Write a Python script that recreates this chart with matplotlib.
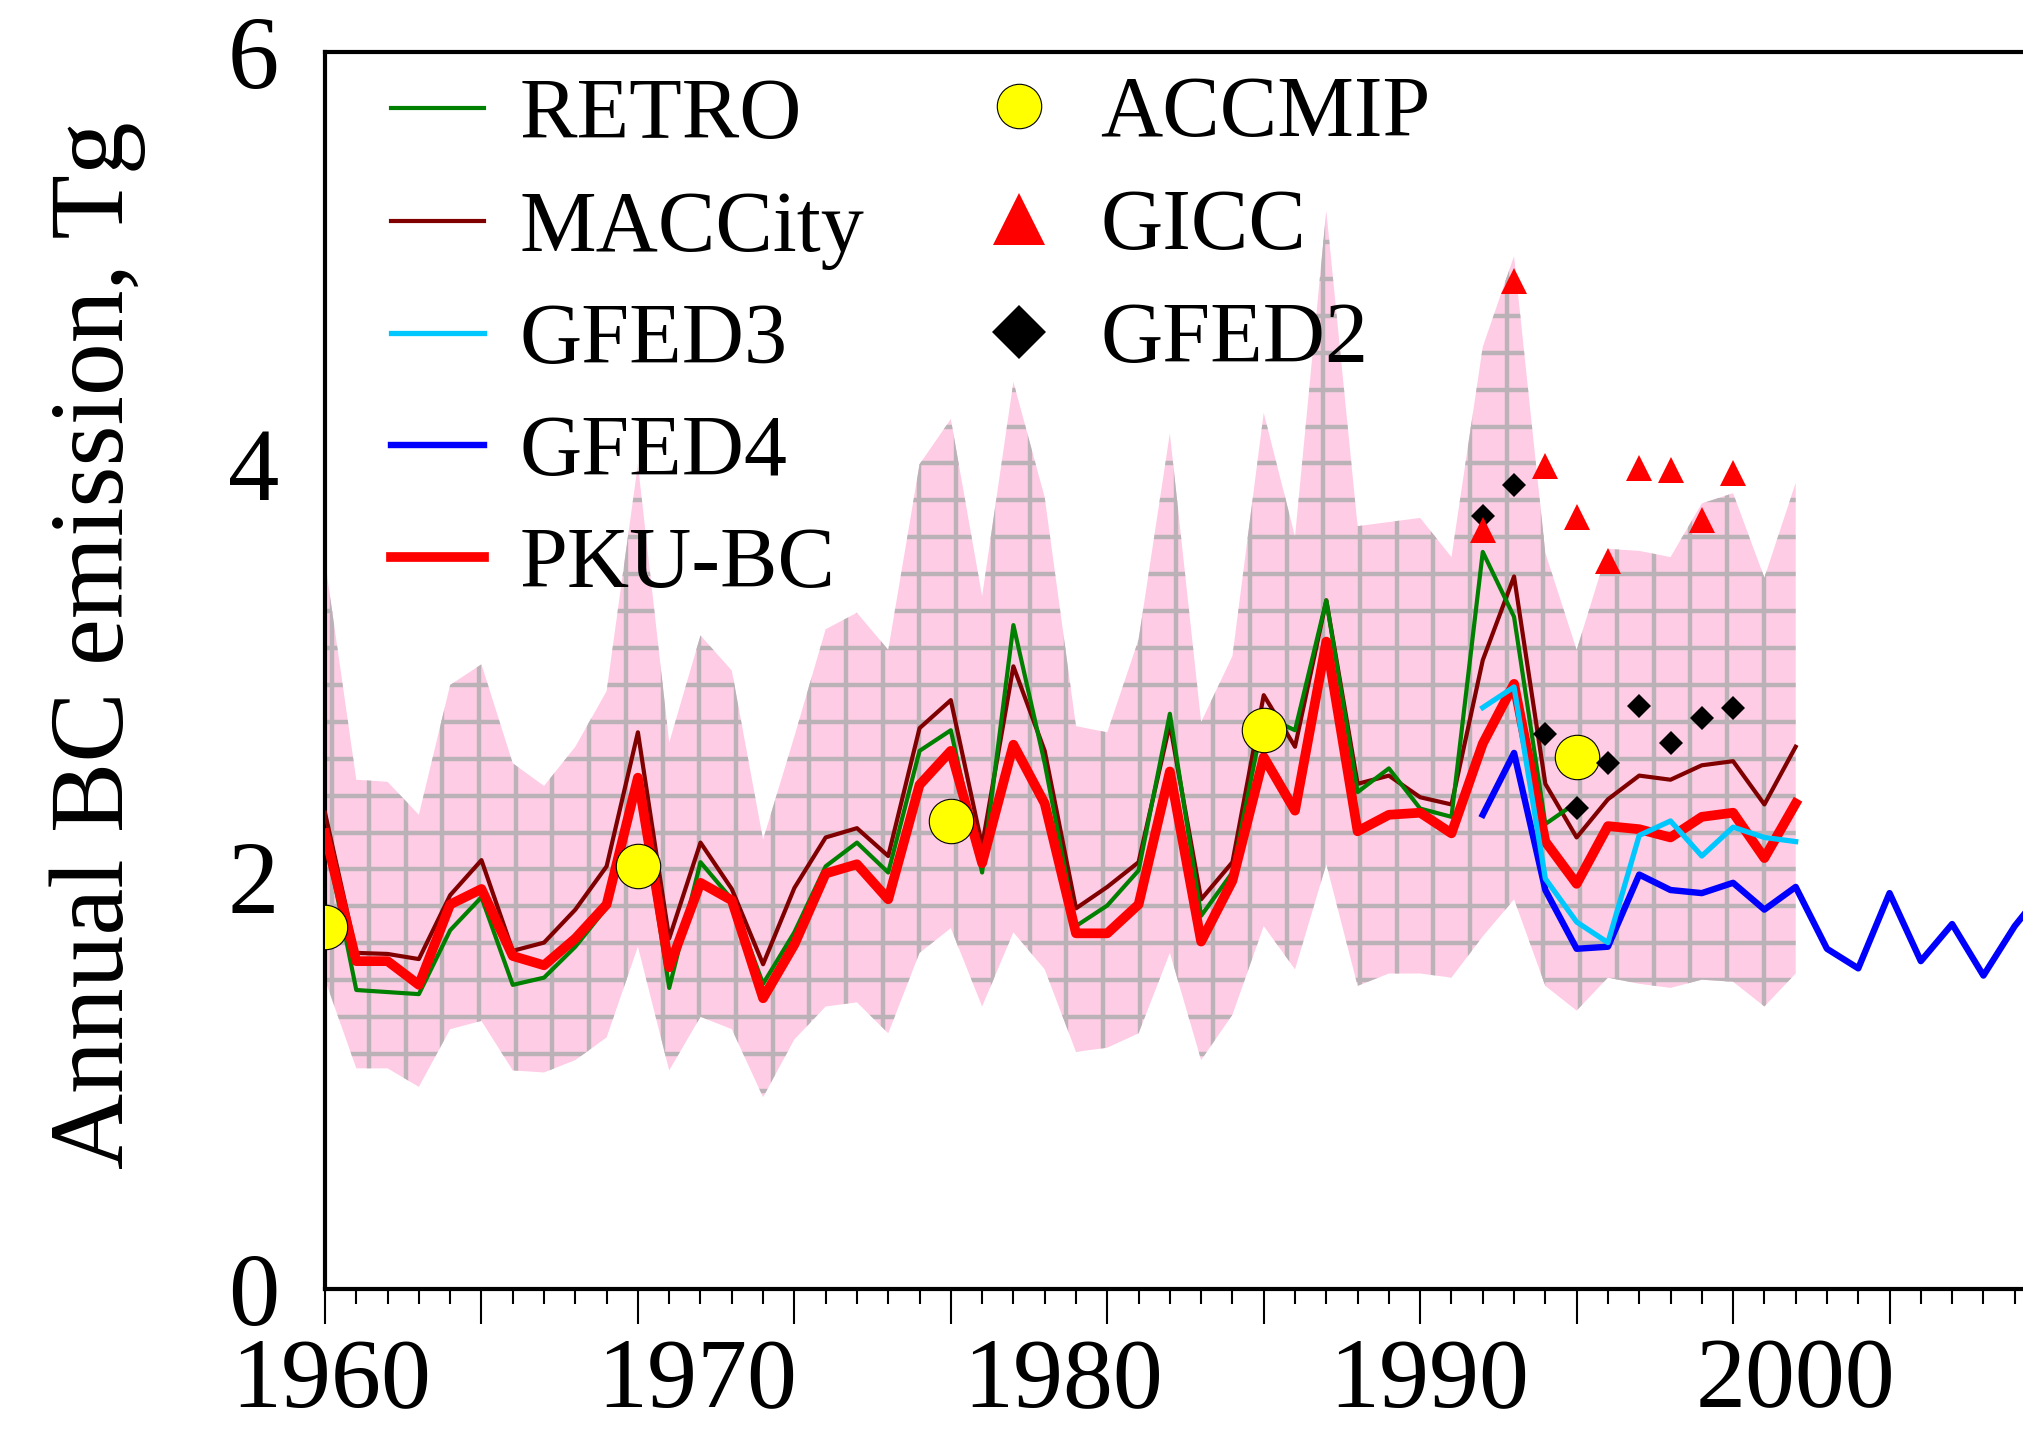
import numpy as np
import matplotlib
matplotlib.use("Agg")
import matplotlib.pyplot as plt
from matplotlib.lines import Line2D

plt.rcParams['font.family'] = ['Liberation Serif', 'DejaVu Serif']

# ---- annual black-carbon emission estimates (Tg) ----
years = np.arange(1960, 2008)

pku_bc = [2.21, 1.59, 1.59, 1.475, 1.865, 1.94, 1.615, 1.57, 1.70, 1.865,
          2.48, 1.56, 1.97, 1.885, 1.41, 1.67, 2.015, 2.06, 1.89, 2.445,
          2.61, 2.065, 2.64, 2.355, 1.725, 1.725, 1.865, 2.51, 1.685, 1.98,
          2.58, 2.32, 3.14, 2.22, 2.30, 2.31, 2.21, 2.645, 2.935, 2.17,
          1.965, 2.245, 2.23, 2.19, 2.29, 2.31, 2.09, 2.355]

maccity = [2.31, 1.63, 1.625, 1.60, 1.91, 2.08, 1.64, 1.68, 1.84, 2.05,
           2.70, 1.70, 2.165, 1.94, 1.575, 1.945, 2.19, 2.235, 2.10, 2.72,
           2.856, 2.15, 3.02, 2.61, 1.846, 1.95, 2.07, 2.74, 1.89, 2.07,
           2.88, 2.63, 3.34, 2.45, 2.49, 2.385, 2.35, 3.05, 3.456, 2.45,
           2.19, 2.375, 2.49, 2.47, 2.54, 2.56, 2.35, 2.63]

retro_years = np.arange(1960, 2001)
retro = [2.20, 1.45, 1.44, 1.43, 1.74, 1.90, 1.475, 1.51, 1.66, 1.85,
         2.45, 1.46, 2.07, 1.89, 1.48, 1.73, 2.05, 2.165, 2.02, 2.61,
         2.71, 2.02, 3.22, 2.55, 1.76, 1.86, 2.03, 2.79, 1.81, 2.02,
         2.78, 2.71, 3.34, 2.41, 2.525, 2.33, 2.29, 3.575, 3.26, 2.255,
         2.36]

gfed3_years = np.arange(1997, 2008)
gfed3 = [2.82, 2.92, 1.99, 1.78, 1.68, 2.20, 2.27, 2.10, 2.24, 2.19, 2.17]

gfed4_years = np.arange(1997, 2016)
gfed4 = [2.30, 2.60, 1.935, 1.65, 1.66, 2.01, 1.935, 1.92, 1.97, 1.84,
         1.95, 1.65, 1.555, 1.92, 1.59, 1.77, 1.52, 1.76, 1.95]

point_years = np.arange(1997, 2006)
gicc = [3.68, 4.89, 3.99, 3.745, 3.53, 3.98, 3.97, 3.73, 3.956]
gfed2 = [3.75, 3.90, 2.69, 2.335, 2.55, 2.83, 2.65, 2.77, 2.82]

accmip_years = [1960, 1970, 1980, 1990, 2000]
accmip = [1.757, 2.05, 2.27, 2.71, 2.58]

# uncertainty range of PKU-BC
band_hi = [3.53, 2.47, 2.46, 2.30, 2.93, 3.03, 2.55, 2.44, 2.63, 2.90,
           4.00, 2.65, 3.17, 3.00, 2.18, 2.68, 3.20, 3.28, 3.10, 4.00,
           4.22, 3.36, 4.40, 3.84, 2.73, 2.70, 3.15, 4.15, 2.75, 3.07,
           4.25, 3.65, 5.23, 3.70, 3.72, 3.74, 3.55, 4.57, 5.01, 3.57,
           3.10, 3.59, 3.58, 3.55, 3.81, 3.86, 3.45, 3.91]
band_lo = [1.50, 1.07, 1.07, 0.98, 1.26, 1.30, 1.06, 1.05, 1.11, 1.22,
           1.66, 1.06, 1.32, 1.26, 0.93, 1.21, 1.37, 1.39, 1.24, 1.63,
           1.75, 1.37, 1.73, 1.55, 1.15, 1.17, 1.24, 1.63, 1.11, 1.33,
           1.76, 1.55, 2.06, 1.47, 1.53, 1.53, 1.51, 1.71, 1.89, 1.47,
           1.35, 1.51, 1.48, 1.46, 1.50, 1.49, 1.37, 1.53]

year_labels = [1960, 1970, 1980, 1990, 2000]

fig = plt.figure(figsize=(20.23, 14.32), dpi=100)
ax = fig.add_axes([325 / 2023, 0.0999, 1721 / 2023, 0.8638])

# pink uncertainty band with a grey grid pattern clipped to it
band = ax.fill_between(years, band_lo, band_hi, facecolor='#ffcce5',
                       edgecolor='none', zorder=1)
clip = band.get_paths()[0]
grid_color = '#bab2b6'
vl = ax.vlines(np.arange(1960.23, 2008, 1.173), 0, 6, colors=grid_color,
               lw=3.2, zorder=1.5)
hl = ax.hlines(np.arange(0.066, 6, 0.179), 1960, 2008, colors=grid_color,
               lw=3.2, zorder=1.5)
for lc in (vl, hl):
    lc.set_clip_path(clip, ax.transData)

l_mac, = ax.plot(years, maccity, color='#800000', lw=3.0, zorder=3, label='MACCity')
l_ret, = ax.plot(retro_years, retro, color='#008000', lw=3.0, zorder=3.2, label='RETRO')
l_pku, = ax.plot(years, pku_bc, color='#ff0000', lw=7.0, zorder=3.4, label='PKU-BC')
l_g4, = ax.plot(gfed4_years, gfed4, color='#0000ff', lw=4.6, zorder=3.6, label='GFED4')
l_g3, = ax.plot(gfed3_years, gfed3, color='#00c8ff', lw=3.8, zorder=3.8, label='GFED3')

ax.plot(accmip_years, accmip, ls='none', marker='o', ms=32, mfc='#ffff00',
        mec='black', mew=0.8, zorder=5)
ax.plot(point_years, gfed2, ls='none', marker='D', ms=12.5, mfc='black',
        mec='black', mew=0, zorder=5.5)
ax.plot(point_years, gicc, ls='none', marker='^', ms=19, mfc='#ff0000',
        mec='#ff0000', mew=0, zorder=6)

ax.set_xlim(1960, 2015)
ax.set_ylim(0, 6)

# axes frame and ticks
for side in ('left', 'bottom', 'top', 'right'):
    ax.spines[side].set_linewidth(3.0)
ax.set_xticks(np.arange(1960, 2016, 5))
ax.set_xticks(np.arange(1960, 2016, 1), minor=True)
ax.tick_params(axis='x', which='major', direction='out', length=25,
               width=1.5, labelbottom=False)
ax.tick_params(axis='x', which='minor', direction='out', length=11, width=1.5)
ax.set_yticks([0, 2, 4, 6])
ax.tick_params(axis='y', length=0, pad=33, labelsize=74)

# year labels on their own stretched scale
sec = ax.secondary_xaxis('bottom',
                         functions=(lambda x: 1960 + (x - 1960.2) / 1.17,
                                    lambda t: 1960.2 + (t - 1960) * 1.17))
sec.set_xticks(year_labels)
sec.xaxis.set_minor_locator(matplotlib.ticker.NullLocator())
sec.tick_params(length=0, pad=35, labelsize=72)
sec.spines['bottom'].set_visible(False)

ax.set_ylabel('Annual BC emission, Tg', fontsize=76, va='center')
ax.yaxis.set_label_coords(0.0485, 0.5496, transform=fig.transFigure)

# legends
leg1 = ax.legend(handles=[l_ret, l_mac, l_g3, l_g4, l_pku], loc='upper left',
                 bbox_to_anchor=(0.0383, 0.979), frameon=False, fontsize=62,
                 handlelength=1.08, handletextpad=0.41, labelspacing=0.38,
                 borderpad=0, borderaxespad=0)
ax.add_artist(leg1)
proxies = [
    Line2D([], [], ls='none', marker='o', ms=32, mfc='#ffff00', mec='black',
           mew=0.8, label='ACCMIP'),
    Line2D([], [], ls='none', marker='^', ms=37, mfc='#ff0000', mew=0,
           label='GICC'),
    Line2D([], [], ls='none', marker='D', ms=27, mfc='black', mew=0,
           label='GFED2'),
]
ax.legend(handles=proxies, loc='upper left', bbox_to_anchor=(0.376, 0.981),
          frameon=False, fontsize=62, handlelength=1.08, handletextpad=0.41,
          labelspacing=0.39, borderpad=0, borderaxespad=0)

fig.savefig('out.png', dpi=100)
